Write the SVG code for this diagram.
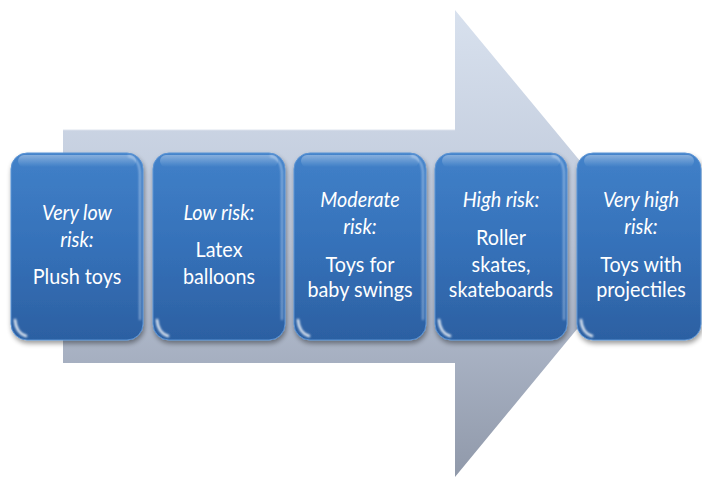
<svg xmlns="http://www.w3.org/2000/svg" width="702" height="477" viewBox="0 0 702 477">
<defs>
<linearGradient id="arrowGrad" x1="0" y1="10" x2="0" y2="477" gradientUnits="userSpaceOnUse">
<stop offset="0" stop-color="#d8e1ee"/>
<stop offset="0.5" stop-color="#bcc6d8"/>
<stop offset="1" stop-color="#9099aa"/>
</linearGradient>
<linearGradient id="boxGrad" x1="0" y1="0" x2="0" y2="1">
<stop offset="0" stop-color="#4684cb"/>
<stop offset="0.08" stop-color="#3f7ec6"/>
<stop offset="0.5" stop-color="#3571b9"/>
<stop offset="1" stop-color="#2c60a2"/>
</linearGradient>
<linearGradient id="glossGrad" x1="0" y1="0" x2="0" y2="1">
<stop offset="0" stop-color="#ffffff" stop-opacity="0.35"/>
<stop offset="1" stop-color="#ffffff" stop-opacity="0"/>
</linearGradient>
<filter id="shadow" x="-20%" y="-20%" width="140%" height="140%">
<feGaussianBlur in="SourceAlpha" stdDeviation="2.5"/>
<feOffset dx="1" dy="3" result="b"/>
<feComponentTransfer><feFuncA type="linear" slope="0.4"/></feComponentTransfer>
<feMerge><feMergeNode/><feMergeNode in="SourceGraphic"/></feMerge>
</filter>
<filter id="soft" x="-50%" y="-50%" width="200%" height="200%">
<feGaussianBlur stdDeviation="0.8"/>
</filter>
</defs>
<style>
.box{fill:url(#boxGrad);stroke:#5b93d4;stroke-width:1;filter:url(#shadow)}
.gloss{fill:url(#glossGrad)}
.edge{fill:none;stroke:#cfe3fa;stroke-opacity:0.7;stroke-width:1.5;filter:url(#soft)}
.arc{fill:none;stroke:#ffffff;stroke-opacity:0.9;stroke-width:2.5;stroke-linecap:round;filter:url(#soft)}
.t{font-family:Lato,"Liberation Sans",sans-serif;font-size:21.5px;fill:#ffffff;text-anchor:middle}
.i{font-style:italic}
</style>
<g id="arrow">
<path d="M63,129 L455,129 L455,10 L648,243 L455,477 L455,363 L63,363 Z" fill="url(#arrowGrad)"/>
<path d="M63,129.5 L455,129.5" stroke="#ffffff" stroke-opacity="0.7" stroke-width="1.5"/>
</g>
<g id="node-very-low">
<rect class="box" x="11" y="153" width="132" height="187" rx="16"/>
<rect class="gloss" x="18" y="155" width="118" height="12" rx="6"/>
<path class="edge" d="M128,156 Q140,158 140,175 L140,320"/>
<path class="arc" d="M15,320 Q16,333 26,336"/>
<g transform="translate(77,0) scale(0.92,1)">
<text class="t i" x="0" y="220">Very low</text>
<text class="t i" x="0" y="247">risk:</text>
<text class="t" x="0" y="284">Plush toys</text>
</g>
</g>
<g id="node-low">
<rect class="box" x="153" y="153" width="132" height="187" rx="16"/>
<rect class="gloss" x="160" y="155" width="118" height="12" rx="6"/>
<path class="edge" d="M270,156 Q282,158 282,175 L282,320"/>
<path class="arc" d="M157,320 Q158,333 168,336"/>
<g transform="translate(219,0) scale(0.92,1)">
<text class="t i" x="0" y="220">Low risk:</text>
<text class="t" x="0" y="257">Latex</text>
<text class="t" x="0" y="284">balloons</text>
</g>
</g>
<g id="node-moderate">
<rect class="box" x="294" y="153" width="132" height="187" rx="16"/>
<rect class="gloss" x="301" y="155" width="118" height="12" rx="6"/>
<path class="edge" d="M411,156 Q423,158 423,175 L423,320"/>
<path class="arc" d="M298,320 Q299,333 309,336"/>
<g transform="translate(360,0) scale(0.92,1)">
<text class="t i" x="0" y="207">Moderate</text>
<text class="t i" x="0" y="234">risk:</text>
<text class="t" x="0" y="272">Toys for</text>
<text class="t" x="0" y="297">baby swings</text>
</g>
</g>
<g id="node-high">
<rect class="box" x="435" y="153" width="132" height="187" rx="16"/>
<rect class="gloss" x="442" y="155" width="118" height="12" rx="6"/>
<path class="edge" d="M552,156 Q564,158 564,175 L564,320"/>
<path class="arc" d="M439,320 Q440,333 450,336"/>
<g transform="translate(501,0) scale(0.92,1)">
<text class="t i" x="0" y="207">High risk:</text>
<text class="t" x="0" y="245">Roller</text>
<text class="t" x="0" y="272">skates,</text>
<text class="t" x="0" y="297">skateboards</text>
</g>
</g>
<g id="node-very-high">
<rect class="box" x="577" y="153" width="124" height="187" rx="16"/>
<rect class="gloss" x="584" y="155" width="110" height="12" rx="6"/>
<path class="arc" d="M581,320 Q582,333 592,336"/>
<g transform="translate(641,0) scale(0.92,1)">
<text class="t i" x="0" y="207">Very high</text>
<text class="t i" x="0" y="234">risk:</text>
<text class="t" x="0" y="272">Toys with</text>
<text class="t" x="0" y="297">projectiles</text>
</g>
</g>
<g id="connectors"/>
</svg>
